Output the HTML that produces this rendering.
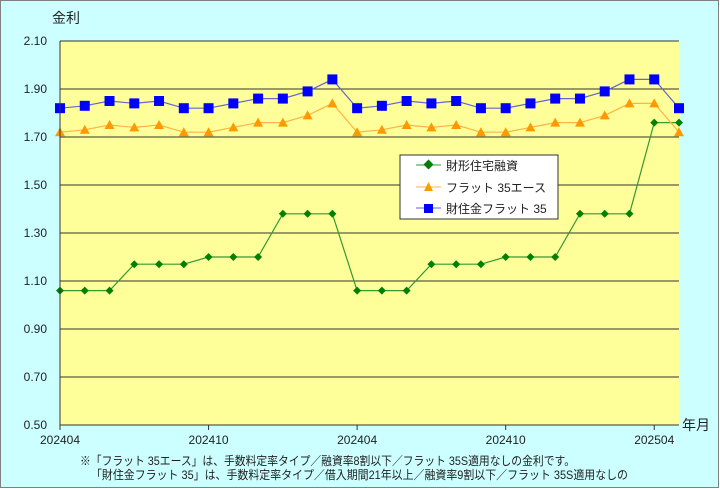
<!DOCTYPE html>
<html><head><meta charset="utf-8"><style>
body{margin:0;background:#fff}
svg{display:block;font-family:"Liberation Sans","Noto Sans CJK JP",sans-serif}
</style></head><body>
<svg id="c" width="720" height="489" viewBox="0 0 720 489">
<rect x="0.5" y="0.5" width="718" height="487" fill="#ccffff" stroke="#808080"/>
<text x="52" y="23" font-size="14" fill="#222">金利</text>
<text x="682" y="430" font-size="14" fill="#222">年月</text>
<rect x="60" y="41" width="619" height="384" fill="#ffff99"/>
<g id="grid"></g><g id="series"></g>
<line x1="60" y1="41" x2="60" y2="425" stroke="#333"/>
<line x1="60" y1="425" x2="679" y2="425" stroke="#333"/>
<g>
<rect x="400" y="155" width="158" height="64" fill="#fff" stroke="#333"/>
<line x1="416" y1="165" x2="441" y2="165" stroke="#339933"/><rect x="425" y="161" width="7" height="7" fill="#008000" transform="rotate(45 428.5 164.5)"/>
<text x="446" y="170" font-size="12" fill="#222">財形住宅融資</text>
<line x1="416" y1="187" x2="441" y2="187" stroke="#ffb347"/><polygon points="428.5,182 433,191 424,191" fill="#ff9900"/>
<text x="446" y="192" font-size="12" fill="#222">フラット 35エース</text>
<line x1="416" y1="208" x2="441" y2="208" stroke="#6666cc"/><rect x="424" y="204" width="9" height="9" fill="#0000ff"/>
<text x="446" y="213" font-size="12" fill="#222">財住金フラット 35</text>
</g>
<text x="80" y="465" font-size="12" fill="#222" textLength="495" lengthAdjust="spacingAndGlyphs">※「フラット 35エース」は、手数料定率タイプ／融資率8割以下／フラット 35S適用なしの金利です。</text>
<text x="91" y="479" font-size="12" fill="#222" textLength="537" lengthAdjust="spacingAndGlyphs">「財住金フラット 35」は、手数料定率タイプ／借入期間21年以上／融資率9割以下／フラット 35S適用なしの</text>
</svg>
<script>
const categories=["202404","202405","202406","202407","202408","202409","202410","202411","202412","202501","202502","202503","202404","202405","202406","202407","202408","202409","202410","202411","202412","202501","202502","202503","202504","202505"];
const zaikei=[1.06,1.06,1.06,1.17,1.17,1.17,1.20,1.20,1.20,1.38,1.38,1.38,1.06,1.06,1.06,1.17,1.17,1.17,1.20,1.20,1.20,1.38,1.38,1.38,1.76,1.76];
const flat35ace=[1.72,1.73,1.75,1.74,1.75,1.72,1.72,1.74,1.76,1.76,1.79,1.84,1.72,1.73,1.75,1.74,1.75,1.72,1.72,1.74,1.76,1.76,1.79,1.84,1.84,1.72];
const zaijukin=[1.82,1.83,1.85,1.84,1.85,1.82,1.82,1.84,1.86,1.86,1.89,1.94,1.82,1.83,1.85,1.84,1.85,1.82,1.82,1.84,1.86,1.86,1.89,1.94,1.94,1.82];
const yTicks=[0.50,0.70,0.90,1.10,1.30,1.50,1.70,1.90,2.10];
const xLabelIdx=[0,6,12,18,24];
const NS="http://www.w3.org/2000/svg";
const X0=60,X1=679,Y0=425,Y1=41,YMIN=0.5,YMAX=2.1;
const xs=i=>X0+i*(X1-X0)/(categories.length-1);
const ys=v=>Y0-(v-YMIN)/(YMAX-YMIN)*(Y0-Y1);
function mk(t,a,p){const e=document.createElementNS(NS,t);for(const k in a)e.setAttribute(k,a[k]);p.appendChild(e);return e;}
const grid=document.getElementById('grid'),svg=document.getElementById('c'),ser=document.getElementById('series');
yTicks.forEach(v=>{
 if(v>YMIN){const l=mk('line',{x1:X0,x2:X1,y1:ys(v),y2:ys(v),stroke:'#333'},grid);
 
 }
 const t=mk('text',{x:X0-13,y:ys(v)+4,'font-size':12,'text-anchor':'end',fill:'#222'},svg);
 t.textContent=v.toFixed(2);
 
 
});
xLabelIdx.forEach(i=>{
 const tk=mk('line',{x1:xs(i),x2:xs(i),y1:Y0,y2:Y0+5,stroke:'#333'},svg);
 
 
 const t=mk('text',{x:xs(i),y:444,'font-size':12,'text-anchor':'middle',fill:'#222'},svg);
 t.textContent=categories[i];
 
 
});
function line(data,color,name){
 const pl=mk('polyline',{points:data.map((v,i)=>xs(i)+','+ys(v)).join(' '),fill:'none',stroke:color,'stroke-width':1.2},ser);
 
 
}
line(zaikei,'#339933','zaikei');line(flat35ace,'#ffb347','flat35-ace');line(zaijukin,'#6666cc','zaijukin');
zaikei.forEach((v,i)=>{const x=xs(i),y=ys(v);
 const m=mk('polygon',{points:`${x},${y-4} ${x+4},${y} ${x},${y+4} ${x-4},${y}`,fill:'#008000'},ser);
 
 });
flat35ace.forEach((v,i)=>{const x=xs(i),y=ys(v);
 const m=mk('polygon',{points:`${x},${y-5} ${x+5},${y+4} ${x-5},${y+4}`,fill:'#ff9900'},ser);
 
 });
zaijukin.forEach((v,i)=>{const x=xs(i),y=ys(v);
 const m=mk('rect',{x:x-5,y:y-5,width:10,height:10,fill:'#0000ff'},ser);
 
 });
</script>
</body></html>
